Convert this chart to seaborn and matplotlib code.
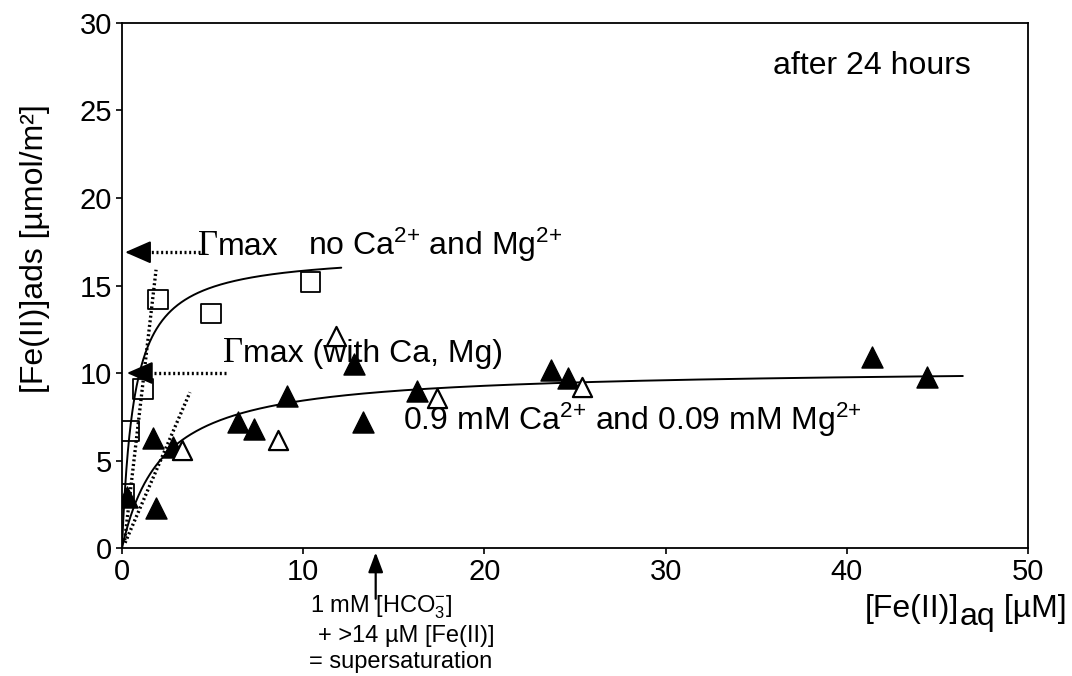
import numpy as np
import pandas as pd
import matplotlib
matplotlib.use("Agg")
import matplotlib.pyplot as plt
from matplotlib.transforms import offset_copy
import seaborn as sns

# Fe(II) sorption data after 24 h
# without Ca2+ / Mg2+ (open squares)
fe_aq_free = [0.1, 0.4, 1.15, 2.0, 4.9, 10.4]
fe_ads_free = [3.1, 6.7, 9.1, 14.2, 13.4, 15.2]

# with 0.9 mM Ca2+ and 0.09 mM Mg2+ (filled triangles)
fe_aq_ca = [0.3, 1.7, 1.9, 2.8, 6.4, 7.3, 9.1, 12.8, 13.3, 16.3, 23.7, 24.6, 41.4, 44.4]
fe_ads_ca = [2.9, 6.3, 2.3, 5.8, 7.2, 6.8, 8.7, 10.5, 7.2, 9.0, 10.2, 9.7, 10.9, 9.8]

# with Ca2+ / Mg2+, second series (open triangles)
fe_aq_ca_b = [3.3, 8.6, 11.8, 17.4, 25.4]
fe_ads_ca_b = [5.6, 6.2, 12.1, 8.6, 9.2]

# Langmuir fit parameters: Gamma_max, K, upper end of fitted range
gmax_free, k_free, end_free = 16.9, 1.5, 12.1
gmax_ca, k_ca, end_ca = 10.3, 0.45, 46.4

# initial-slope tangents (x pair, y pair)
tangent_free = ([0.15, 1.88], [0.45, 15.9])
tangent_ca = ([0.17, 3.75], [0.3, 8.9])

x_ticks = [0, 10, 20, 30, 40, 50]
y_ticks = [0, 5, 10, 15, 20, 25, 30]

sns.set_theme(style="ticks")
plt.rcParams["font.family"] = ["Liberation Sans", "DejaVu Sans"]
plt.rcParams["mathtext.fontset"] = "custom"
plt.rcParams["mathtext.rm"] = "Liberation Sans"
plt.rcParams["mathtext.it"] = "Liberation Sans:italic"
plt.rcParams["mathtext.bf"] = "Liberation Sans:bold"
plt.rcParams["text.color"] = "black"

W, H = 1072, 676
fig = plt.figure(figsize=(W / 100, H / 100), dpi=100)
ax = fig.add_axes([0.1138, 0.1893, 0.8452, 0.7767])
ax.set_facecolor("white")
renderer = fig.canvas.get_renderer()


def chain_text(target, x, y, pieces, transform):
    """Draw text pieces one after another along a shared baseline."""
    dx = 0.0
    for s, dy, kw in pieces:
        tr = offset_copy(transform, fig=fig, x=dx, y=dy, units="dots")
        t = target.text(x, y, s, transform=tr, ha="left", va="baseline", **kw)
        dx += t.get_window_extent(renderer).width


def langmuir(c, gmax, k):
    return gmax * k * c / (1.0 + k * c)


c_free = np.linspace(0, end_free, 300)
c_ca = np.linspace(0, end_ca, 600)
fit_free = pd.DataFrame({"c": c_free, "g": langmuir(c_free, gmax_free, k_free)})
fit_ca = pd.DataFrame({"c": c_ca, "g": langmuir(c_ca, gmax_ca, k_ca)})

sns.lineplot(data=fit_free, x="c", y="g", ax=ax, color="black", lw=1.4,
             estimator=None, sort=False, zorder=2)
sns.lineplot(data=fit_ca, x="c", y="g", ax=ax, color="black", lw=1.4,
             estimator=None, sort=False, zorder=2)

dot = (0, (0.6, 0.8))
ax.plot(*tangent_free, color="black", lw=2.4, ls=dot, zorder=2)
ax.plot(*tangent_ca, color="black", lw=2.4, ls=dot, zorder=2)

# Gamma_max markers
head = dict(arrowstyle="-|>,head_length=0.8,head_width=0.35", color="black",
            lw=1.5, mutation_scale=20, shrinkA=0, shrinkB=0)
ax.plot([1.1, 4.3], [gmax_free, gmax_free], color="black", lw=2.4, ls=dot, zorder=2)
ax.annotate("", xy=(0.17, gmax_free), xytext=(1.3, gmax_free), arrowprops=head, zorder=3)
ax.plot([1.0, 5.85], [10.0, 10.0], color="black", lw=2.4, ls=dot, zorder=2)
ax.annotate("", xy=(0.27, 10.0), xytext=(1.2, 10.0), arrowprops=head, zorder=3)

# data points
sns.scatterplot(x=fe_aq_free, y=fe_ads_free, ax=ax, marker="s", s=200,
                facecolor="none", edgecolor="black", linewidth=1.3, zorder=4)
sns.scatterplot(x=fe_aq_ca, y=fe_ads_ca, ax=ax, marker="^", s=230,
                color="black", edgecolor="black", linewidth=1.0, zorder=4)
sns.scatterplot(x=fe_aq_ca_b, y=fe_ads_ca_b, ax=ax, marker="^", s=190,
                facecolor="white", edgecolor="black", linewidth=1.6, zorder=5)

# annotations
fs = 23
serif = dict(fontsize=25, family=["Liberation Serif", "DejaVu Serif"], zorder=3)
sans = dict(fontsize=fs, zorder=3)
ax.text(35.9, 27.1, "after 24 hours", fontsize=fs, ha="left", va="baseline")
ax.text(10.26, 16.74, r"no Ca$^{\mathregular{2{+}}}$ and Mg$^{\mathregular{2{+}}}$",
        fontsize=fs, ha="left", va="baseline")
chain_text(ax, 4.2, 16.74, [("\u0393", 0, serif), ("max", 0, sans)], ax.transData)
chain_text(ax, 5.55, 10.65, [("\u0393", 0, serif), ("max (with Ca, Mg)", 0, sans)],
           ax.transData)
ax.text(15.5, 6.74,
        r"0.9 mM Ca$^{\mathregular{2{+}}}$ and 0.09 mM Mg$^{\mathregular{2{+}}}$",
        fontsize=fs, ha="left", va="baseline")

# supersaturation threshold
ax.annotate("", xy=(14.0, -0.25), xytext=(14.0, -2.9), annotation_clip=False,
            arrowprops=dict(arrowstyle="-|>,head_length=0.8,head_width=0.3",
                            color="black", lw=1.6, mutation_scale=15,
                            shrinkA=0, shrinkB=0))
fs_small = 17
ax.text(10.4, -3.71, r"1 mM [HCO$_{\mathregular{3}}^{\mathregular{-}}$]", fontsize=fs_small,
        ha="left", va="baseline", clip_on=False)
ax.text(10.8, -5.37, "+ >14 \u00b5M [Fe(II)]", fontsize=fs_small,
        ha="left", va="baseline", clip_on=False)
ax.text(10.3, -6.86, "= supersaturation", fontsize=fs_small,
        ha="left", va="baseline", clip_on=False)

# axes
ax.set_xlim(0, 50)
ax.set_ylim(0, 30)
ax.set_xticks(x_ticks)
ax.set_yticks(y_ticks)
ax.set_xticklabels([str(v) for v in x_ticks])
ax.set_yticklabels([str(v) for v in y_ticks])
ax.tick_params(axis="both", direction="out", length=4, width=1.2,
               labelsize=21, colors="black", pad=3)
for sp in ax.spines.values():
    sp.set_visible(True)
    sp.set_color("black")
    sp.set_linewidth(1.3)
ax.set_xlabel("")
ax.set_ylabel("")

# axis titles
fig.text(43 / W, 1 - 393 / H, "[Fe(II)]ads [\u00b5mol/m\u00b2]", fontsize=23,
         rotation=90, rotation_mode="anchor", ha="left", va="baseline")
label_kw = dict(fontsize=23)
chain_text(fig, 865 / W, 1 - 617 / H,
           [("[Fe(II)]", 0, label_kw), ("aq", -8, label_kw), (" [\u00b5M]", 0, label_kw)],
           fig.transFigure)

fig.savefig("out.png", dpi=100, facecolor="white")
